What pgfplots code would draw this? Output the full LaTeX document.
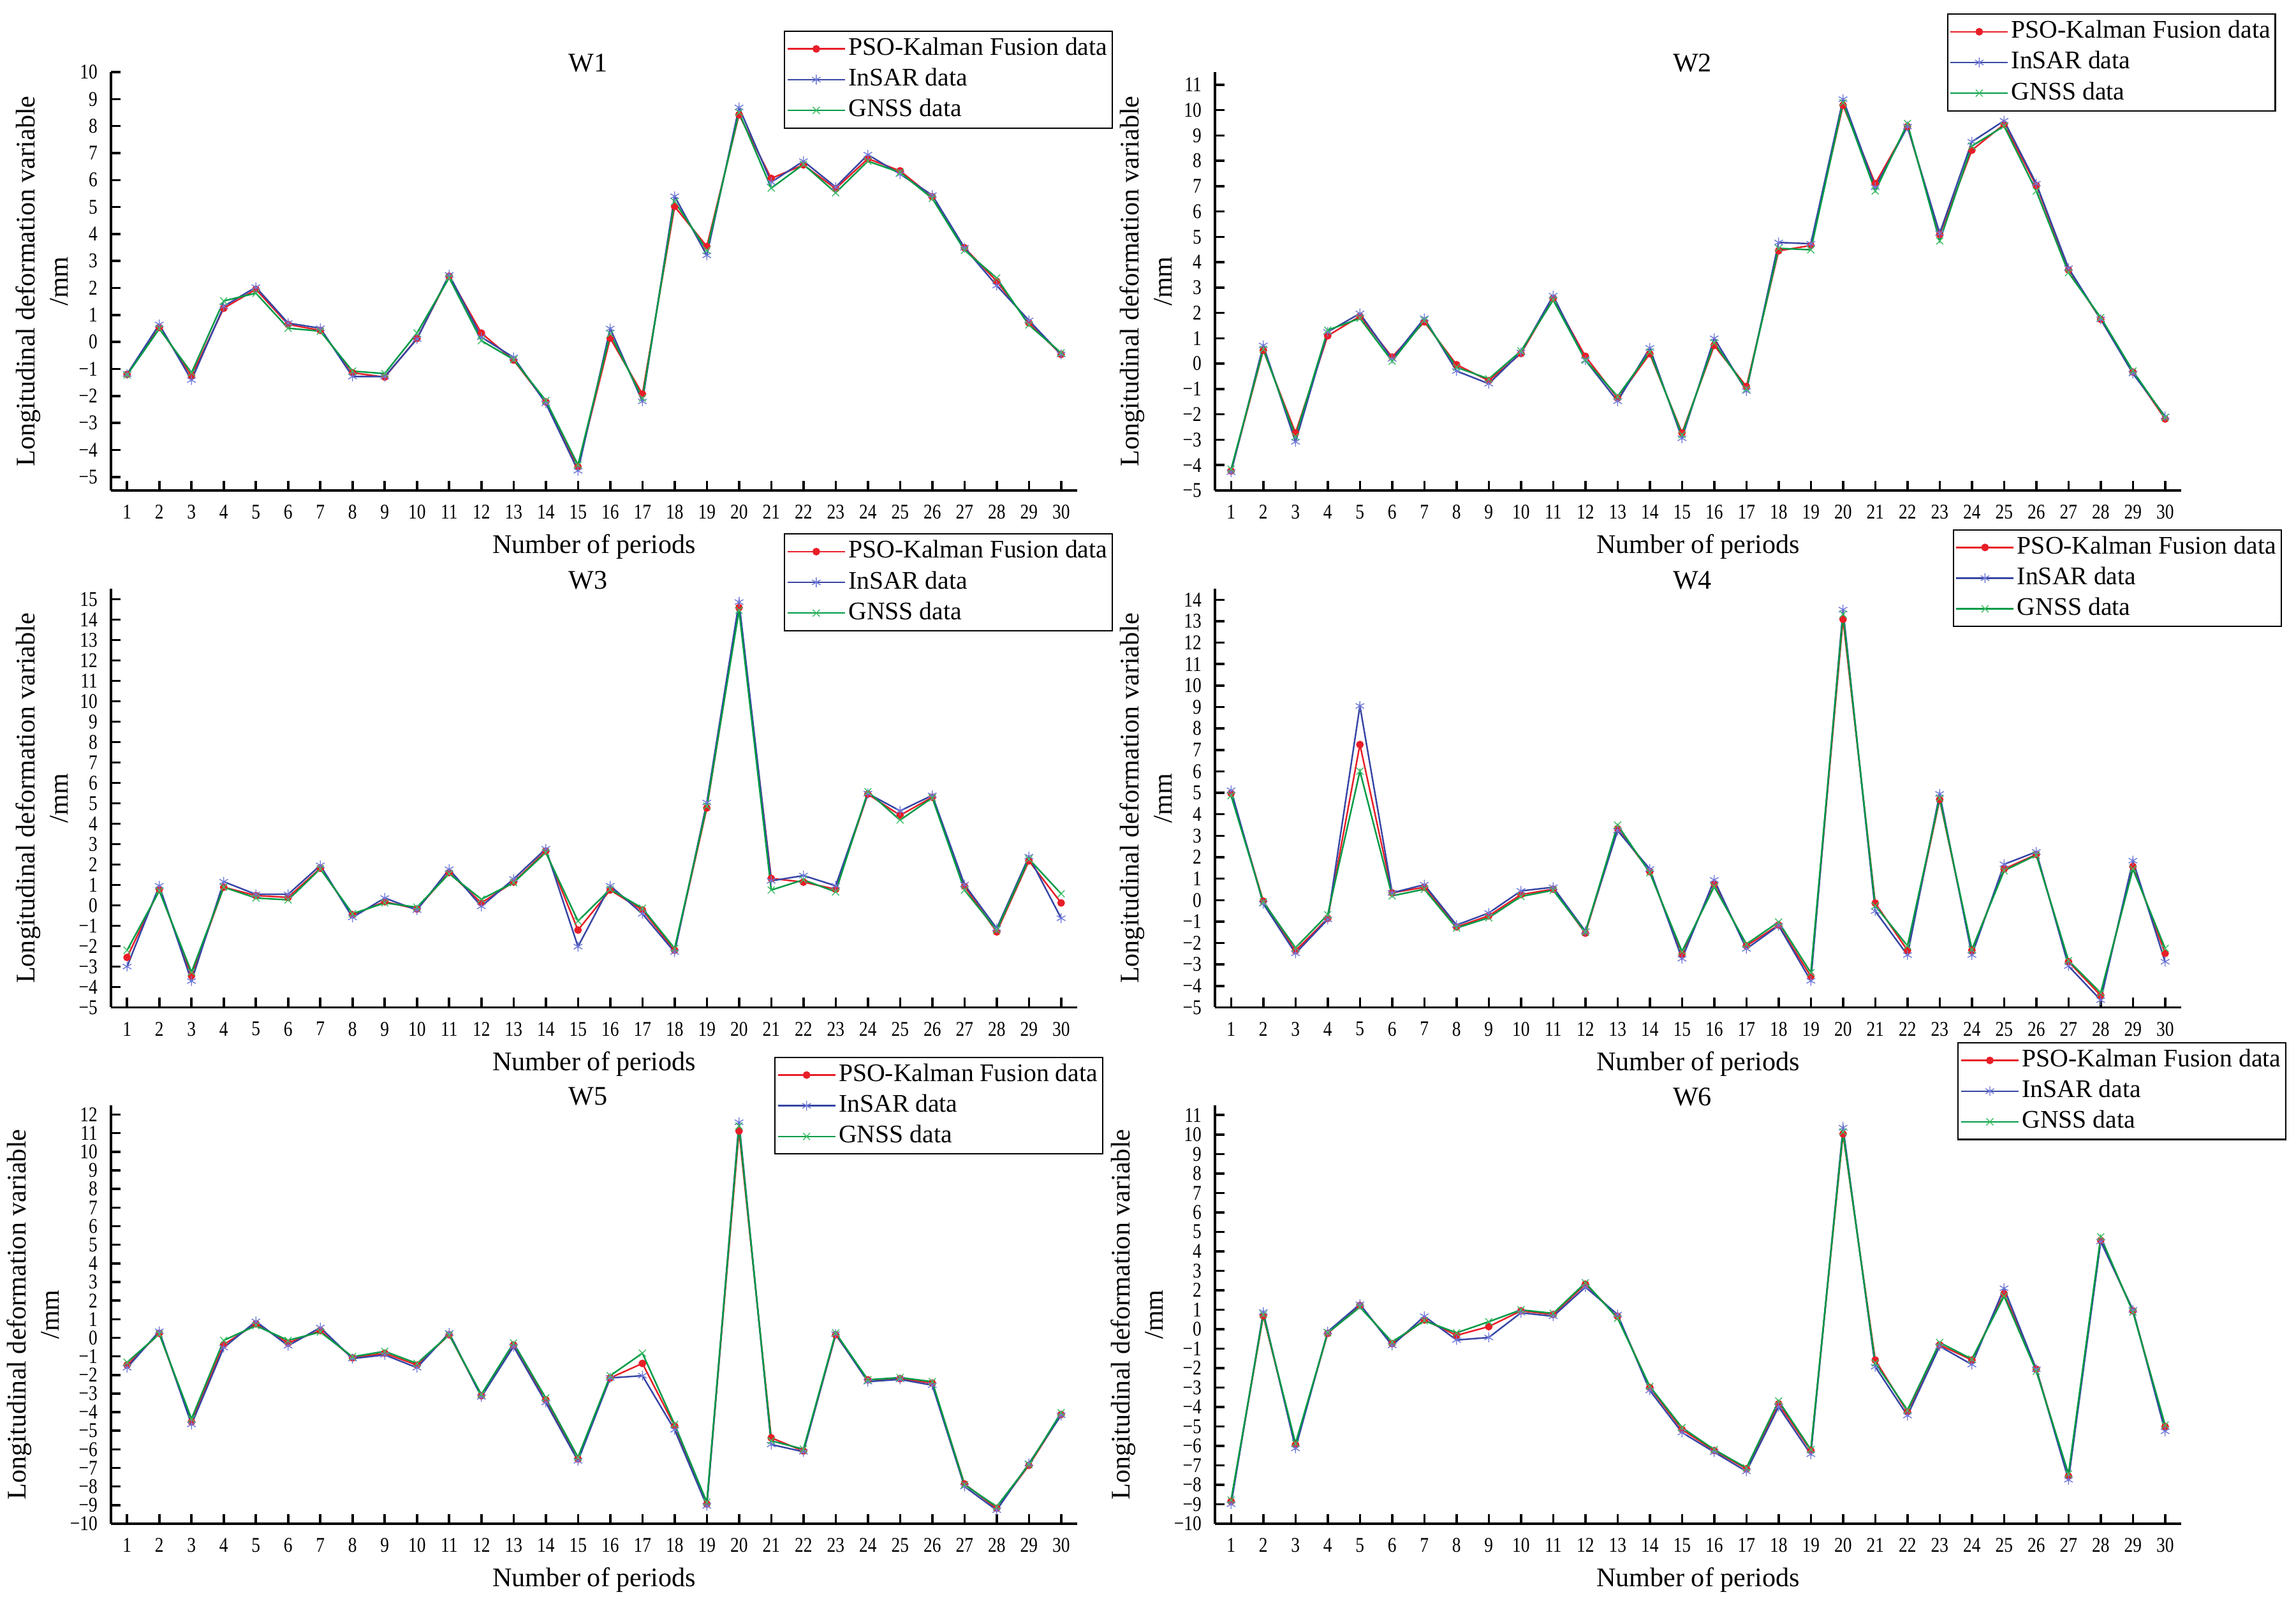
\documentclass[border=0pt]{standalone}
\usepackage{fontspec}
\setmainfont{Liberation Serif}
\usepackage{graphicx}
\usepackage{pgfplots}
\usepackage{pgfplotstable}
\pgfplotsset{compat=1.18}

\definecolor{fusred}{RGB}{232,30,40}
\definecolor{insline}{RGB}{55,70,165}
\definecolor{insmark}{RGB}{110,120,215}
\definecolor{gnline}{RGB}{0,155,70}
\definecolor{gnmark}{RGB}{60,190,100}

\newcommand{\mytl}[1]{\pgfmathtruncatemacro\tv{round(#1)}\scalebox{1}[1.2]{\ifnum\tv<0 \char"2212\relax\number-\tv\relax\else\tv\fi}}

\pgfplotstableread{
x f i g
1 -1.20 -1.19 -1.22
2 0.54 0.65 0.49
3 -1.25 -1.41 -1.14
4 1.25 1.32 1.52
5 1.95 2.03 1.81
6 0.65 0.70 0.51
7 0.43 0.51 0.40
8 -1.14 -1.28 -1.08
9 -1.30 -1.28 -1.17
10 0.13 0.11 0.33
11 2.44 2.49 2.38
12 0.33 0.18 0.05
13 -0.67 -0.57 -0.65
14 -2.22 -2.27 -2.17
15 -4.63 -4.77 -4.55
16 0.14 0.50 0.30
17 -1.93 -2.20 -2.08
18 5.02 5.40 5.20
19 3.54 3.21 3.40
20 8.42 8.69 8.50
21 6.06 5.92 5.70
22 6.56 6.70 6.58
23 5.68 5.74 5.53
24 6.79 6.94 6.70
25 6.34 6.22 6.28
26 5.38 5.44 5.32
27 3.49 3.49 3.40
28 2.25 2.09 2.37
29 0.71 0.80 0.63
30 -0.46 -0.46 -0.40
}\WA

\pgfplotstableread{
x f i g
1 -4.23 -4.28 -4.16
2 0.53 0.72 0.57
3 -2.73 -3.08 -2.87
4 1.10 1.25 1.32
5 1.87 1.98 1.79
6 0.26 0.19 0.10
7 1.65 1.79 1.71
8 -0.04 -0.29 -0.14
9 -0.67 -0.79 -0.60
10 0.40 0.44 0.50
11 2.58 2.68 2.51
12 0.29 0.14 0.14
13 -1.36 -1.48 -1.29
14 0.39 0.62 0.46
15 -2.73 -2.94 -2.80
16 0.72 1.00 0.82
17 -0.90 -1.08 -1.00
18 4.45 4.78 4.55
19 4.66 4.73 4.49
20 10.19 10.43 10.29
21 7.10 6.96 6.81
22 9.35 9.35 9.47
23 5.09 5.14 4.84
24 8.42 8.75 8.58
25 9.44 9.58 9.37
26 7.03 7.10 6.81
27 3.70 3.77 3.59
28 1.75 1.75 1.82
29 -0.33 -0.39 -0.29
30 -2.18 -2.08 -2.12
}\WB

\pgfplotstableread{
x f i g
1 -2.55 -3.00 -2.20
2 0.79 0.96 0.71
3 -3.45 -3.71 -3.27
4 0.89 1.16 0.89
5 0.48 0.54 0.36
6 0.39 0.54 0.27
7 1.82 1.96 1.79
8 -0.46 -0.59 -0.41
9 0.18 0.36 0.12
10 -0.18 -0.23 -0.09
11 1.61 1.77 1.55
12 0.12 -0.05 0.30
13 1.14 1.29 1.11
14 2.66 2.77 2.59
15 -1.21 -2.02 -0.77
16 0.75 0.96 0.79
17 -0.23 -0.41 -0.14
18 -2.20 -2.29 -2.11
19 4.77 5.04 4.86
20 14.59 14.86 14.46
21 1.32 1.20 0.75
22 1.14 1.46 1.25
23 0.79 0.96 0.66
24 5.45 5.48 5.57
25 4.41 4.63 4.18
26 5.30 5.39 5.27
27 0.93 1.02 0.75
28 -1.30 -1.13 -1.21
29 2.18 2.39 2.27
30 0.12 -0.63 0.57
}\WC

\pgfplotstableread{
x f i g
1 4.98 5.12 4.87
2 -0.05 -0.17 -0.09
3 -2.36 -2.48 -2.22
4 -0.85 -0.90 -0.68
5 7.25 9.05 6.01
6 0.34 0.34 0.20
7 0.60 0.72 0.51
8 -1.25 -1.16 -1.30
9 -0.73 -0.60 -0.82
10 0.26 0.43 0.17
11 0.51 0.60 0.46
12 -1.54 -1.45 -1.49
13 3.33 3.24 3.50
14 1.33 1.45 1.28
15 -2.53 -2.73 -2.39
16 0.77 0.94 0.63
17 -2.13 -2.27 -2.05
18 -1.16 -1.19 -1.02
19 -3.55 -3.76 -3.38
20 13.09 13.54 13.32
21 -0.14 -0.51 -0.26
22 -2.34 -2.56 -2.13
23 4.69 4.95 4.75
24 -2.34 -2.56 -2.30
25 1.45 1.67 1.37
26 2.13 2.25 2.10
27 -2.87 -3.07 -2.82
28 -4.44 -4.66 -4.32
29 1.57 1.84 1.45
30 -2.48 -2.87 -2.25
}\WD

\pgfplotstableread{
x f i g
1 -1.47 -1.61 -1.32
2 0.24 0.35 0.20
3 -4.52 -4.66 -4.36
4 -0.37 -0.53 -0.14
5 0.75 0.88 0.65
6 -0.28 -0.43 -0.14
7 0.39 0.55 0.31
8 -1.08 -1.12 -1.02
9 -0.83 -0.92 -0.73
10 -1.47 -1.61 -1.38
11 0.16 0.26 0.16
12 -3.12 -3.18 -3.05
13 -0.39 -0.47 -0.28
14 -3.34 -3.48 -3.24
15 -6.52 -6.62 -6.42
16 -2.16 -2.16 -2.04
17 -1.38 -2.04 -0.83
18 -4.75 -4.95 -4.66
19 -8.94 -9.04 -8.84
20 11.12 11.59 11.39
21 -5.38 -5.74 -5.54
22 -6.09 -6.13 -5.99
23 0.16 0.20 0.26
24 -2.26 -2.36 -2.26
25 -2.20 -2.24 -2.14
26 -2.44 -2.55 -2.36
27 -7.86 -8.00 -7.90
28 -9.17 -9.27 -9.08
29 -6.86 -6.76 -6.82
30 -4.13 -4.17 -4.03
}\WE

\pgfplotstableread{
x f i g
1 -8.85 -9.00 -8.78
2 0.69 0.88 0.75
3 -5.94 -6.13 -5.87
4 -0.22 -0.13 -0.19
5 1.22 1.28 1.13
6 -0.75 -0.84 -0.66
7 0.47 0.66 0.43
8 -0.32 -0.56 -0.19
9 0.13 -0.43 0.38
10 0.94 0.84 0.99
11 0.75 0.66 0.81
12 2.31 2.16 2.38
13 0.66 0.75 0.56
14 -3.00 -3.15 -2.94
15 -5.16 -5.31 -5.06
16 -6.24 -6.32 -6.19
17 -7.18 -7.31 -7.13
18 -3.84 -3.99 -3.69
19 -6.24 -6.43 -6.19
20 10.03 10.35 10.13
21 -1.59 -1.93 -1.74
22 -4.26 -4.44 -4.16
23 -0.81 -0.88 -0.69
24 -1.59 -1.82 -1.54
25 1.82 2.10 1.69
26 -2.06 -2.06 -2.16
27 -7.56 -7.74 -7.44
28 4.56 4.50 4.74
29 0.94 0.99 0.88
30 -5.01 -5.25 -4.93
}\WF

\pgfplotsset{
  panel/.style={
    width=15.15cm, height=6.56cm, scale only axis, anchor=south west,
    xmin=0.5, xmax=30.5, xtick={1,...,30},
    axis x line*=bottom, axis y line*=left,
    axis line style={line width=1pt,-},
    tick style={line width=1pt, black},
    major tick length=0.15cm, tick align=inside,
    xticklabel={\mytl{\tick}}, yticklabel={\mytl{\tick}},
    ticklabel style={font=\fontsize{7.8}{9}\selectfont},
    yticklabel shift=2.5pt, xticklabel shift=3pt,
    xlabel={Number of periods},
    ylabel={Longitudinal deformation variable\\/mm},
    label style={font=\fontsize{12}{14.7}\selectfont},
    ylabel style={align=center, at={(ticklabel cs:0.5,-2pt)}},
    title style={at={(axis description cs:0.494,1)}, anchor=base,
      font=\fontsize{12}{14}\selectfont, inner sep=0pt, yshift=-6pt},
    clip=false,
    legend cell align=left,
    legend style={draw=black, line width=0.6pt, fill=white, anchor=north east,
      font=\fontsize{11.3}{13.5}\selectfont,
      inner xsep=1pt, inner ysep=1.5pt, row sep=1pt,
      nodes={inner sep=1.2pt, text height=8pt, text depth=2.3pt}},
    legend image code/.code={%
      \draw[mark repeat=2,mark phase=2,##1] plot coordinates {(0cm,0cm) (0.45cm,0cm) (0.9cm,0cm)};},
  },
  fus/.style={color=fusred, line width=0.7pt, mark=*, mark size=1.5pt,
    mark options={solid, fill=fusred, draw=fusred, line width=0.4pt}},
  ins/.style={color=insline, line width=0.7pt, mark=asterisk, mark size=2.2pt,
    mark options={solid, draw=insmark, line width=0.4pt}},
  gns/.style={color=gnline, line width=0.7pt, mark=x, mark size=2.2pt,
    mark options={solid, draw=gnmark, line width=0.4pt}},
}

\begin{document}
\begin{tikzpicture}

% W1
\begin{axis}[panel, at={(1.74cm,17.48cm)}, ymin=-5.5, ymax=10, ytick={-5,...,10},
  title={W1}, legend style={at={(axis description cs:1.037,1.099)}}]
\addplot[fus] table[x=x,y=f]{\WA}; \addlegendentry{PSO-Kalman Fusion data}
\addplot[ins] table[x=x,y=i]{\WA}; \addlegendentry{InSAR data}
\addplot[gns] table[x=x,y=g]{\WA}; \addlegendentry{GNSS data}
\end{axis}

% W2
\begin{axis}[panel, at={(19.05cm,17.48cm)}, ymin=-5, ymax=11.5, ytick={-5,...,11},
  title={W2}, legend style={at={(axis description cs:1.098,1.14)}}]
\addplot[fus] table[x=x,y=f]{\WB}; \addlegendentry{PSO-Kalman Fusion data}
\addplot[ins] table[x=x,y=i]{\WB}; \addlegendentry{InSAR data}
\addplot[gns] table[x=x,y=g]{\WB}; \addlegendentry{GNSS data}
\end{axis}

% W3
\begin{axis}[panel, at={(1.74cm,9.375cm)}, ymin=-5, ymax=15.5, ytick={-5,...,15},
  title={W3}, legend style={at={(axis description cs:1.037,1.133)}}]
\addplot[fus] table[x=x,y=f]{\WC}; \addlegendentry{PSO-Kalman Fusion data}
\addplot[ins] table[x=x,y=i]{\WC}; \addlegendentry{InSAR data}
\addplot[gns] table[x=x,y=g]{\WC}; \addlegendentry{GNSS data}
\end{axis}

% W4
\begin{axis}[panel, at={(19.05cm,9.375cm)}, ymin=-5, ymax=14.5, ytick={-5,...,14},
  title={W4}, legend style={at={(axis description cs:1.104,1.143)}}]
\addplot[fus] table[x=x,y=f]{\WD}; \addlegendentry{PSO-Kalman Fusion data}
\addplot[ins] table[x=x,y=i]{\WD}; \addlegendentry{InSAR data}
\addplot[gns] table[x=x,y=g]{\WD}; \addlegendentry{GNSS data}
\end{axis}

% W5
\begin{axis}[panel, at={(1.74cm,1.28cm)}, ymin=-10, ymax=12.5, ytick={-10,...,12},
  title={W5}, legend style={at={(axis description cs:1.027,1.116)}}]
\addplot[fus] table[x=x,y=f]{\WE}; \addlegendentry{PSO-Kalman Fusion data}
\addplot[ins] table[x=x,y=i]{\WE}; \addlegendentry{InSAR data}
\addplot[gns] table[x=x,y=g]{\WE}; \addlegendentry{GNSS data}
\end{axis}

% W6
\begin{axis}[panel, at={(19.05cm,1.28cm)}, ymin=-10, ymax=11.5, ytick={-10,...,11},
  title={W6}, legend style={at={(axis description cs:1.109,1.151)}}]
\addplot[fus] table[x=x,y=f]{\WF}; \addlegendentry{PSO-Kalman Fusion data}
\addplot[ins] table[x=x,y=i]{\WF}; \addlegendentry{InSAR data}
\addplot[gns] table[x=x,y=g]{\WF}; \addlegendentry{GNSS data}
\end{axis}

\pgfresetboundingbox
\useasboundingbox (0,0) rectangle (36cm,25.17cm);
\end{tikzpicture}
\end{document}
